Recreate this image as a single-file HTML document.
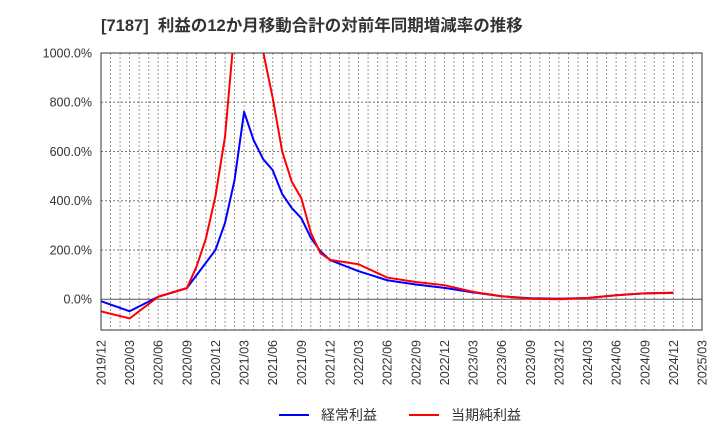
<!DOCTYPE html>
<html><head><meta charset="utf-8"><style>
body{margin:0;background:#fff;width:720px;height:440px;overflow:hidden;font-family:"Liberation Sans","Noto Sans CJK JP",sans-serif}
</style></head><body>
<svg id="c" width="720" height="440" xmlns="http://www.w3.org/2000/svg">
<text x="101" y="31" font-size="16.5" font-weight="bold" fill="#333" font-family="Liberation Sans, Noto Sans CJK JP, sans-serif" xml:space="preserve">[7187]  利益の12か月移動合計の対前年同期増減率の推移</text>
<g>
<line x1="279" y1="415" x2="309" y2="415" stroke="#0000ff" stroke-width="2"/>
<text x="321" y="420" font-size="14" fill="#333">経常利益</text>
<line x1="409" y1="415" x2="439" y2="415" stroke="#ff0000" stroke-width="2"/>
<text x="451" y="420" font-size="14" fill="#333">当期純利益</text>
</g>
</svg>
<script>
const xTickLabels=["2019/12","2020/03","2020/06","2020/09","2020/12","2021/03","2021/06","2021/09","2021/12","2022/03","2022/06","2022/09","2022/12","2023/03","2023/06","2023/09","2023/12","2024/03","2024/06","2024/09","2024/12","2025/03"];
const yTicks=[0,200,400,600,800,1000];
const blueMonths=[0,3,6,9,12,13,14,15,16,17,18,19,20,21,22,23,24,27,30,33,36,39,42,45,48,51,54,57,60];
const blueValues=[-8,-49,10,45,200,310,484,761,646,569,524,427,370,329,249,195,159,114,77,60,46,28,12,4,2,5,16,24,26];
const redMonths=[0,3,6,9,10,11,12,13,14,15,16,17,18,19,20,21,22,23,24,27,30,33,36,39,42,45,48,51,54,57,60];
const redValues=[-49,-78,10,45,131,247,419,660,1100,1500,1400,1005,817,599,477,410,270,187,160,142,88,70,57,30,12,2,0,5,16,24,27];
const L=101,R=702,T=53,B=330,yMin=-125,yMax=1000,nM=63;
const X=m=>L+m*(R-L)/nM;
const Y=v=>T+(yMax-v)*(B-T)/(yMax-yMin);
const s=document.getElementById('c');const NS="http://www.w3.org/2000/svg";
function mk(t,a){const e=document.createElementNS(NS,t);for(const k in a)e.setAttribute(k,a[k]);s.appendChild(e);return e;}
for(let m=1;m<nM;m++){const g=mk('line',{x1:X(m),x2:X(m),y1:T,y2:B,stroke:'#999','stroke-dasharray':'2,2','stroke-width':1});

}
yTicks.forEach(v=>{const g=mk('line',{x1:L,x2:R,y1:Y(v),y2:Y(v),stroke:v===0?'#555':'#777','stroke-dasharray':v===0?'none':'2,2','stroke-width':1});


const t=mk('text',{x:92,y:Y(v)+4.5,'text-anchor':'end','font-size':12.5,fill:'#333'});t.textContent=v.toFixed(1)+'%';

});
xTickLabels.forEach((lb,i)=>{const x=X(i*3);const t=mk('text',{x:0,y:0,'text-anchor':'end','font-size':12.5,fill:'#333',transform:`translate(${x+4.5},340) rotate(-90)`});t.textContent=lb;

});
const defs=mk('defs',{});const cp=document.createElementNS(NS,'clipPath');cp.setAttribute('id','pc');defs.appendChild(cp);
const r=document.createElementNS(NS,'rect');r.setAttribute('x',L);r.setAttribute('y',T);r.setAttribute('width',R-L);r.setAttribute('height',B-T);cp.appendChild(r);
function line(ms,vs,col,name){const p=mk('polyline',{points:ms.map((m,i)=>X(m)+','+Y(vs[i])).join(' '),fill:'none',stroke:col,'stroke-width':2,'clip-path':'url(#pc)','stroke-linejoin':'round'});

}
line(blueMonths,blueValues,'#0000ff','series-operating-profit');
line(redMonths,redValues,'#ff0000','series-net-profit');
const f=mk('rect',{x:L,y:T,width:R-L,height:B-T,fill:'none',stroke:'#333','stroke-width':1});


</script>
</body></html>
